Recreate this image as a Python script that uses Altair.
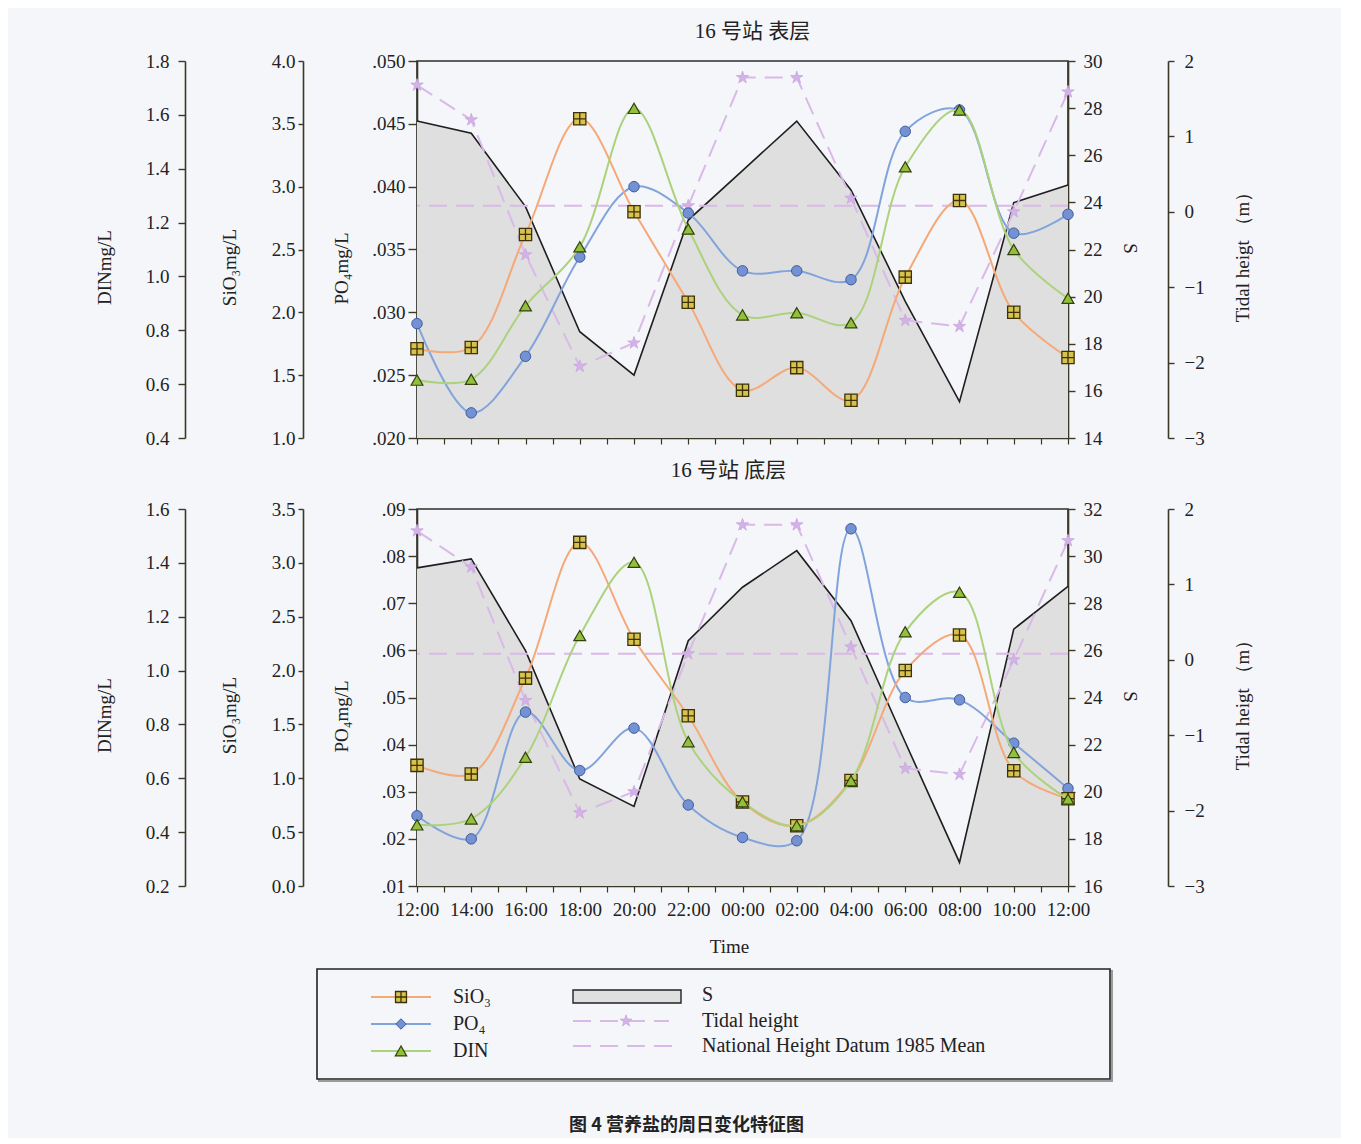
import json
import altair as alt
import pandas as pd

FONT = "Liberation Serif"
CJK = "Liberation Serif, Noto Sans CJK SC"
AX = "#3b3826"
BG = "#f5f6fa"

# ---------------- data ----------------
times = ["12:00", "14:00", "16:00", "18:00", "20:00", "22:00", "00:00",
         "02:00", "04:00", "06:00", "08:00", "10:00", "12:00"]
hours = [0, 2, 4, 6, 8, 10, 12, 14, 16, 18, 20, 22, 24]

# surface layer (表层)
top_sio3 = [1.71, 1.72, 2.62, 3.54, 2.80, 2.08, 1.38, 1.56, 1.30, 2.28, 2.89, 2.00, 1.64]
top_po4 = [0.0291, 0.0220, 0.0265, 0.0344, 0.0400, 0.0379, 0.0333, 0.0333, 0.0326,
           0.0444, 0.0461, 0.0363, 0.0378]
top_din = [0.615, 0.618, 0.891, 1.110, 1.624, 1.176, 0.857, 0.865, 0.828, 1.407, 1.618, 1.100, 0.919]
top_s = [27.45, 26.93, 23.82, 18.51, 16.67, 23.25, 25.35, 27.45, 24.53, 19.80, 15.54, 23.99, 24.74]
top_tide = [1.68, 1.22, -0.57, -2.05, -1.74, 0.08, 1.78, 1.78, 0.18, -1.44, -1.52, 0.00, 1.59]

# bottom layer (底层)
bot_sio3 = [1.12, 1.04, 1.93, 3.19, 2.29, 1.58, 0.78, 0.56, 0.98, 2.00, 2.33, 1.07, 0.81]
bot_po4 = [0.0249, 0.0200, 0.0469, 0.0345, 0.0435, 0.0272, 0.0203, 0.0196, 0.0858,
           0.0500, 0.0495, 0.0403, 0.0307]
bot_din = [0.427, 0.449, 0.678, 1.130, 1.402, 0.736, 0.513, 0.424, 0.591, 1.144, 1.291, 0.696, 0.523]
bot_s = [29.50, 29.88, 25.99, 20.54, 19.38, 26.41, 28.68, 30.23, 27.26, 22.10, 17.00, 26.90, 28.72]
bot_tide = [1.71, 1.23, -0.54, -2.03, -1.75, 0.08, 1.79, 1.79, 0.17, -1.44, -1.52, 0.00, 1.58]

datum_mean = 0.08

# tick labels
top_po4_ticks = [0.020, 0.025, 0.030, 0.035, 0.040, 0.045, 0.050]
top_sio3_ticks = [1.0, 1.5, 2.0, 2.5, 3.0, 3.5, 4.0]
top_din_ticks = [0.4, 0.6, 0.8, 1.0, 1.2, 1.4, 1.6, 1.8]
top_s_ticks = [14, 16, 18, 20, 22, 24, 26, 28, 30]
bot_po4_ticks = [0.01, 0.02, 0.03, 0.04, 0.05, 0.06, 0.07, 0.08, 0.09]
bot_sio3_ticks = [0.0, 0.5, 1.0, 1.5, 2.0, 2.5, 3.0, 3.5]
bot_din_ticks = [0.2, 0.4, 0.6, 0.8, 1.0, 1.2, 1.4, 1.6]
bot_s_ticks = [16, 18, 20, 22, 24, 26, 28, 30, 32]
tide_ticks = [-3, -2, -1, 0, 1, 2]
hour_ticks = list(range(0, 25))

legend_col1 = ["SiO\u2083", "PO\u2084", "DIN"]
legend_col2 = ["S", "Tidal height", "National Height Datum 1985 Mean"]
caption = "图 4   营养盐的周日变化特征图"

# ---------------- styles ----------------
C_SIO3 = "#f5a878"
C_PO4 = "#82a4dc"
C_DIN = "#acd27c"
C_TIDE = "#d9b9e8"
C_AREA = "#dfdfdf"
LBL = 19
TTL = 19

SQ_GRID = "M-1,-1H1V1H-1Z M0,-1V1 M-1,0H1"
STAR = ("M0,-1L0.2245,-0.309L0.951,-0.309L0.363,0.118L0.588,0.809L0,0.382"
        "L-0.588,0.809L-0.363,0.118L-0.951,-0.309L-0.2245,-0.309Z")


def yaxis(orient, offset, title, values, expr, tick, pad, tx, ty, angle):
    return alt.Axis(orient=orient, offset=offset, title=title, values=values,
                    labelExpr=expr, tickSize=tick, labelPadding=pad,
                    titleX=tx, titleY=ty, titleAngle=angle,
                    titleBaseline="middle", titleAlign="center", grid=False,
                    labelFont=FONT, labelFontSize=LBL, labelColor="#222",
                    titleFont=FONT, titleFontSize=TTL, titleFontWeight="normal",
                    titleColor="#222", domainColor=AX, tickColor=AX,
                    domainWidth=1.6, tickWidth=1.4, labelOverlap=False)


def panel(sio3, po4, din, s, tide, po4_ticks, po4_expr, sio3_ticks, din_ticks,
          s_ticks, title, title_dx, title_offset, show_x):
    df = pd.DataFrame({"h": hours, "t": times, "SiO3": sio3, "PO4": po4,
                       "DIN": din, "S": s, "tide": tide})
    base = alt.Chart(df)
    label_expr = "datum.value % 2 ? '' : " + json.dumps(times) + "[datum.value / 2]"
    xaxis_kw = dict(values=hour_ticks, labelExpr=label_expr, labels=show_x,
                    tickSize=6, labelPadding=8, labelFlush=False, labelOverlap=False,
                    grid=False, labelFont=FONT, labelFontSize=LBL, labelColor="#222",
                    titleFont=FONT, titleFontSize=TTL, titleFontWeight="normal",
                    titleColor="#222", titlePadding=18, domainColor=AX, tickColor=AX,
                    domainWidth=1.6, tickWidth=1.2)
    if show_x:
        xaxis = alt.Axis(title="Time", titleX=312, **xaxis_kw)
    else:
        xaxis = alt.Axis(title=None, **xaxis_kw)
    X = alt.X("h:Q", scale=alt.Scale(domain=[0, 24], nice=False, zero=False), axis=xaxis)

    s_y = alt.Y("S:Q", scale=alt.Scale(domain=[s_ticks[0], s_ticks[-1]], nice=False, zero=False),
                axis=yaxis("right", 0, "S", s_ticks, "format(datum.value, 'd')", 7, 8, 61, 187, 90))
    tide_y = alt.Y("tide:Q", scale=alt.Scale(domain=[tide_ticks[0], tide_ticks[-1]], nice=False, zero=False),
                   axis=yaxis("right", 100, "Tidal heigt \uff08m\uff09", tide_ticks,
                              "format(datum.value, 'd')", 6, 10, 74, 191, 270))
    po4_y = alt.Y("PO4:Q", scale=alt.Scale(domain=[po4_ticks[0], po4_ticks[-1]], nice=False, zero=False),
                  axis=yaxis("left", 0, "PO\u2084mg/L", po4_ticks, po4_expr, 9, 3, -76, 207, 270))
    sio3_y = alt.Y("SiO3:Q", scale=alt.Scale(domain=[sio3_ticks[0], sio3_ticks[-1]], nice=False, zero=False),
                   axis=yaxis("left", 114, "SiO\u2083mg/L", sio3_ticks, "format(datum.value, '.1f')", 5, 3, -74, 206, 270))
    din_y = alt.Y("DIN:Q", scale=alt.Scale(domain=[din_ticks[0], din_ticks[-1]], nice=False, zero=False),
                  axis=yaxis("left", 232, "DINmg/L", din_ticks, "format(datum.value, '.1f')", 7, 9, -81, 206, 270))

    s_layer = alt.layer(
        base.mark_area(color=C_AREA, opacity=1).encode(x=X, y=s_y, y2=alt.datum(s_ticks[0])),
        base.mark_line(color="#1e1e1e", strokeWidth=1.6).encode(x=X, y=s_y),
    )
    mean_df = pd.DataFrame({"tide": [datum_mean]})
    tide_layer = alt.layer(
        alt.Chart(mean_df).mark_rule(color=C_TIDE, strokeWidth=2, strokeDash=[18, 9]).encode(y=tide_y),
        base.mark_line(color=C_TIDE, strokeWidth=2, strokeDash=[18, 9]).encode(x=X, y=tide_y),
        base.mark_point(shape=STAR, filled=True, fill="#d4b2e8", stroke="#c9a6df",
                        strokeWidth=0.8, size=170, opacity=1).encode(x=X, y=tide_y),
    )
    po4_layer = alt.layer(
        base.mark_line(color=C_PO4, strokeWidth=2, interpolate="catmull-rom").encode(x=X, y=po4_y),
        base.mark_point(shape="circle", filled=True, fill="#7391d3", stroke="#3e5e9e",
                        strokeWidth=1, size=110, opacity=1).encode(x=X, y=po4_y),
    )
    sio3_layer = alt.layer(
        base.mark_line(color=C_SIO3, strokeWidth=2, interpolate="catmull-rom").encode(x=X, y=sio3_y),
        base.mark_point(shape=SQ_GRID, filled=True, fill="#d8c24e", stroke="#3c3208",
                        strokeWidth=1.3, size=150, opacity=1).encode(x=X, y=sio3_y),
    )
    din_layer = alt.layer(
        base.mark_line(color=C_DIN, strokeWidth=2, interpolate="catmull-rom").encode(x=X, y=din_y),
        base.mark_point(shape="triangle-up", filled=True, fill="#92c03c", stroke="#33420c",
                        strokeWidth=1.2, size=140, opacity=1).encode(x=X, y=din_y),
    )
    return alt.layer(s_layer, tide_layer, po4_layer, sio3_layer, din_layer).resolve_scale(
        y="independent").properties(
        width=651, height=377,
        title=alt.TitleParams(text=title, font=CJK, fontSize=21, fontWeight="normal",
                              color="#222", offset=title_offset, dx=title_dx, anchor="middle"),
    )


top = panel(top_sio3, top_po4, top_din, top_s, top_tide,
            top_po4_ticks, "slice(format(datum.value, '.3f'), 1)",
            top_sio3_ticks, top_din_ticks, top_s_ticks, "16 号站  表层", 10, 10, False)
bottom = panel(bot_sio3, bot_po4, bot_din, bot_s, bot_tide,
               bot_po4_ticks, "slice(format(datum.value, '.2f'), 1)",
               bot_sio3_ticks, bot_din_ticks, bot_s_ticks, "16 号站  底层", -14, 19, True)

# ---------------- legend (positions relative to the plot's left edge) ----------------
one = pd.DataFrame({"k": [0]})
lb = alt.Chart(one)
DY = 1


def lrule(x1, x2, y, color, dash=None, width=2.0):
    kw = dict(color=color, strokeWidth=width)
    if dash:
        kw["strokeDash"] = dash
    return lb.mark_rule(**kw).encode(x=alt.value(x1), x2=alt.value(x2), y=alt.value(y + DY))


def ltext(x, y, txt):
    return lb.mark_text(align="left", baseline="middle", font=FONT, fontSize=20,
                        color="#222").encode(x=alt.value(x), y=alt.value(y + DY), text=alt.value(txt))


legend_layers = [
    lb.mark_rect(fill=BG, stroke="#9a9a9a", strokeWidth=2).encode(
        x=alt.value(-98), x2=alt.value(695), y=alt.value(2 + DY), y2=alt.value(112 + DY)),
    lb.mark_rect(fill=BG, stroke="#222", strokeWidth=1.6).encode(
        x=alt.value(-100), x2=alt.value(693), y=alt.value(0 + DY), y2=alt.value(110 + DY)),
    # col 1
    lrule(-46, 14, 28, C_SIO3),
    lb.mark_point(shape=SQ_GRID, filled=True, fill="#d8c24e", stroke="#3c3208", strokeWidth=1.3,
                  size=120, opacity=1).encode(x=alt.value(-16), y=alt.value(28 + DY)),
    ltext(36, 28, legend_col1[0]),
    lrule(-46, 14, 55, C_PO4),
    lb.mark_point(shape="diamond", filled=True, fill="#7391d3", stroke="#3e5e9e", strokeWidth=1,
                  size=110, opacity=1).encode(x=alt.value(-16), y=alt.value(55 + DY)),
    ltext(36, 55, legend_col1[1]),
    lrule(-46, 14, 82, C_DIN),
    lb.mark_point(shape="triangle-up", filled=True, fill="#92c03c", stroke="#33420c", strokeWidth=1.2,
                  size=130, opacity=1).encode(x=alt.value(-16), y=alt.value(82 + DY)),
    ltext(36, 82, legend_col1[2]),
    # col 2
    lb.mark_rect(fill=C_AREA, stroke="#222", strokeWidth=1.4).encode(
        x=alt.value(156), x2=alt.value(264), y=alt.value(21 + DY), y2=alt.value(34 + DY)),
    ltext(285, 26, legend_col2[0]),
    lrule(156, 252, 52, C_TIDE, dash=[18, 9]),
    lb.mark_point(shape=STAR, filled=True, fill="#d4b2e8", stroke="#c9a6df", strokeWidth=0.8,
                  size=150, opacity=1).encode(x=alt.value(209), y=alt.value(52 + DY)),
    ltext(285, 52, legend_col2[1]),
    lrule(156, 264, 77, C_TIDE, dash=[18, 9]),
    ltext(285, 77, legend_col2[2]),
]
legend = alt.layer(*legend_layers).properties(
    width=651, height=110 + DY,
    view=alt.ViewBackground(stroke="transparent"),
    title=alt.TitleParams(text=caption, orient="bottom", font="Noto Sans CJK SC", fontSize=18,
                          fontWeight="bold", color="#222", offset=35, dx=-56, anchor="middle"),
)

chart = alt.vconcat(top, bottom, legend, spacing=10).properties(
    padding={"left": 86, "top": 12, "right": 88, "bottom": 2},
).configure(background=BG).configure_view(stroke="#2e2e2e", strokeWidth=1.6, fill=BG)

chart.save("out.html", embed_options={"renderer": "svg", "actions": False})
